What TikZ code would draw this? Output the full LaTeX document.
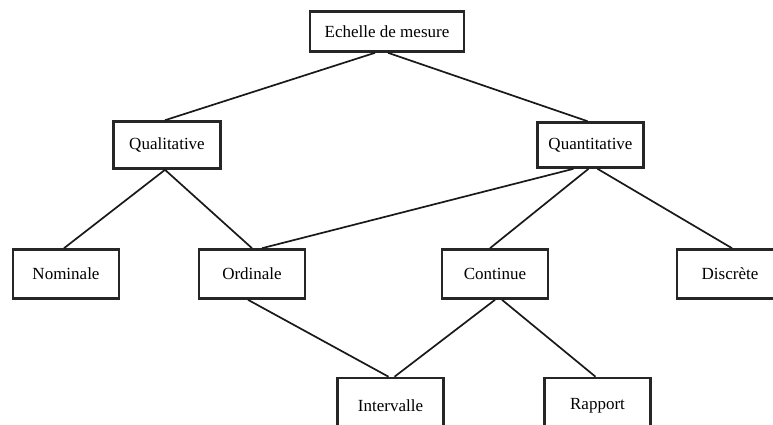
\documentclass[tikz,border=0pt]{standalone}
\usepackage{fontspec}
\setmainfont{Liberation Serif}
\begin{document}
\begin{tikzpicture}[x=1pt,y=-1pt,
  box/.style={draw=black!85, line width=2.6pt, rectangle, fill=white, inner sep=0pt,
    minimum width=106pt, minimum height=49pt, font=\fontsize{17}{20}\selectfont},
  link/.style={draw=black!90, line width=1.7pt}]
\useasboundingbox (0,0) rectangle (773,424);
\node[box, minimum width=154pt, minimum height=40pt] (ech) at (387,31.5) {Echelle de mesure};
\node[box, minimum width=107pt, minimum height=47pt] (qual) at (167,145) {Qualitative};
\node[box, minimum width=106pt, minimum height=45pt] (quan) at (590.5,145) {Quantitative};
\node[box] (nom) at (66,274) {Nominale};
\node[box] (ord) at (252,274) {Ordinale};
\node[box] (cont) at (495,274) {Continue};
\node[box] (disc) at (730,274) {Discrète};
\node[box, minimum height=48pt] (int) at (390.5,402) {\raisebox{-9pt}[0pt][0pt]{Intervalle}};
\node[box, minimum height=48pt] (rap) at (597.5,402) {\raisebox{-7pt}[0pt][0pt]{Rapport}};
\draw[link] ([xshift=-12pt]ech.south) -- ([xshift=-2pt]qual.north);
\draw[link] ([xshift=1pt]ech.south) -- ([xshift=-3pt]quan.north);
\draw[link] ([xshift=-2pt]qual.south) -- ([xshift=-2pt]nom.north);
\draw[link] ([xshift=-2pt]qual.south) -- (ord.north);
\draw[link] ([xshift=-17pt]quan.south) -- ([xshift=10pt]ord.north);
\draw[link] ([xshift=-2pt]quan.south) -- ([xshift=-5pt]cont.north);
\draw[link] ([xshift=7pt]quan.south) -- ([xshift=2pt]disc.north);
\draw[link] ([xshift=-4pt]ord.south) -- ([xshift=-2pt]int.north);
\draw[link] (cont.south) -- ([xshift=4pt]int.north);
\draw[link] ([xshift=7pt]cont.south) -- ([xshift=-2pt]rap.north);
\end{tikzpicture}
\end{document}
